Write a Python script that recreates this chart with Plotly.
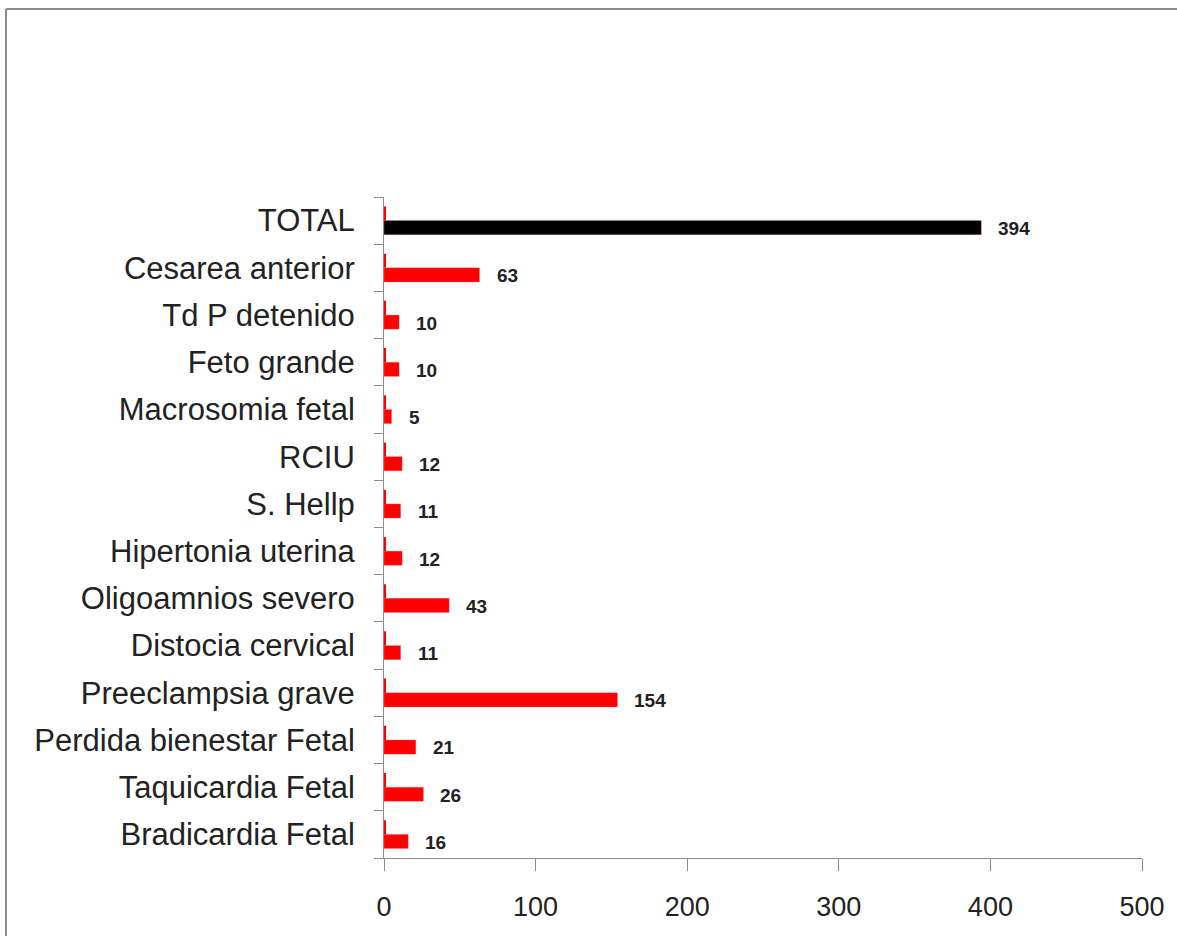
import plotly.graph_objects as go

# categorias de arriba hacia abajo, como en la imagen
categorias = ["TOTAL", "Cesarea anterior", "Td P detenido", "Feto grande",
              "Macrosomia fetal", "RCIU", "S. Hellp", "Hipertonia uterina",
              "Oligoamnios severo", "Distocia cervical", "Preeclampsia grave",
              "Perdida bienestar Fetal", "Taquicardia Fetal", "Bradicardia Fetal"]
casos = [394, 63, 10, 10, 5, 12, 11, 12, 43, 11, 154, 21, 26, 16]
serie_b = [1, 1, 1, 1, 1, 1, 1, 1, 1, 1, 1, 1, 1, 1]  # barritas casi nulas
colores = ["#000000"] + ["#FF0000"] * (len(categorias) - 1)
ticks_x = [0, 100, 200, 300, 400, 500]

W, H = 1177, 936
ML, MR, MT, MB = 384, 31, 197, 78
pw, ph = W - ML - MR, H - MT - MB

fig = go.Figure()
fig.add_trace(go.Bar(y=categorias, x=casos, orientation="h",
                     marker=dict(color=colores, line=dict(color="rgba(255,120,120,0.6)", width=0.5)),
                     showlegend=False, hoverinfo="x+y"))
fig.add_trace(go.Bar(y=categorias, x=serie_b, orientation="h",
                     marker=dict(color="#FF0000", line=dict(width=0)),
                     showlegend=False, hoverinfo="skip"))

# etiquetas de valor a la derecha de cada barra
for cat, v in zip(categorias, casos):
    fig.add_annotation(x=v, y=cat, text="<b>%d</b>" % v, showarrow=False,
                       xanchor="left", xshift=15, yshift=-8,
                       font=dict(family="Liberation Sans, Arial", size=19, color="#222"))

# marco gris de la diapositiva (solo se ven arriba y a la izquierda)
x_izq = (4 - ML) / pw
y_sup = (H - MB - 9) / ph
fig.add_shape(type="line", xref="paper", yref="paper", layer="below",
              x0=x_izq, x1=(W + 10 - ML) / pw, y0=y_sup, y1=y_sup,
              line=dict(color="#8c8c8c", width=2))
fig.add_shape(type="line", xref="paper", yref="paper", layer="below",
              x0=x_izq, x1=x_izq, y0=y_sup, y1=-(MB + 10) / ph,
              line=dict(color="#8c8c8c", width=2))

fig.update_layout(
    width=W, height=H,
    margin=dict(l=ML, r=MR, t=MT, b=MB),
    paper_bgcolor="white", plot_bgcolor="white",
    barmode="group", bargap=0.4, bargroupgap=0,
    font=dict(family="Liberation Sans, Arial", color="#222"),
    xaxis=dict(range=[0, 500], tickvals=ticks_x, showgrid=False, zeroline=False,
               showline=True, linecolor="#8c8c8c", linewidth=1,
               ticks="outside", ticklen=12, tickcolor="#8c8c8c",
               ticklabelstandoff=13,
               tickfont=dict(family="Liberation Sans Narrow, Arial", size=27, color="#222")),
    yaxis=dict(categoryorder="array", categoryarray=categorias[::-1],
               showgrid=False, zeroline=False, showline=True,
               linecolor="#8c8c8c", linewidth=1, ticks="outside", ticklen=9,
               tickcolor="#8c8c8c", tickson="boundaries", ticklabelstandoff=22,
               tickfont=dict(family="Liberation Sans, Arial", size=31, color="#222")),
)

fig.write_html("out.html", config={"displayModeBar": False},
               post_script="document.body.style.margin='0';")
